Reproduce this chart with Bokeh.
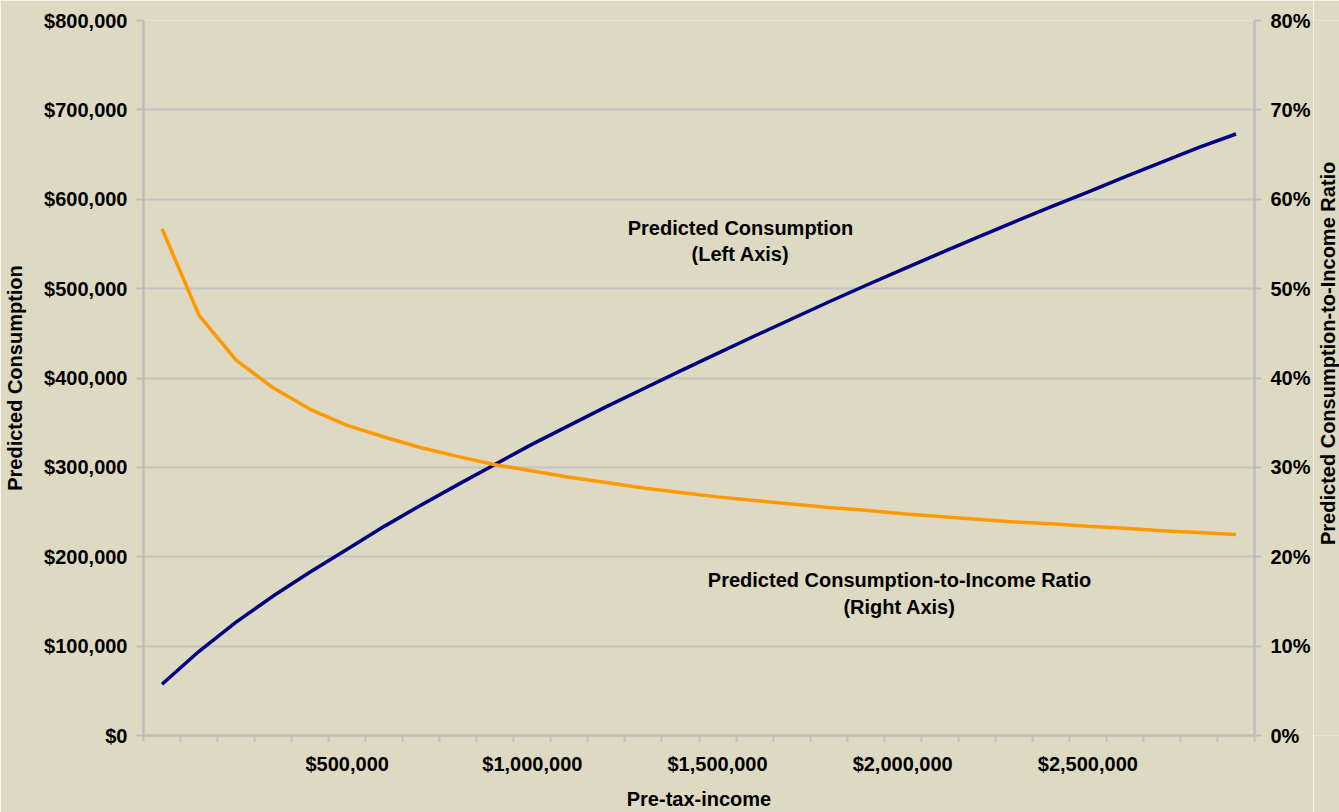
import math
from bokeh.plotting import figure
from bokeh.layouts import row
from bokeh.models import (Range1d, LinearAxis, FixedTicker, NumeralTickFormatter,
                          PrintfTickFormatter, Label)
from bokeh.embed import file_html
from bokeh.resources import INLINE

# ---- data ----
income = [0, 100000, 200000, 300000, 400000, 500000, 600000, 700000, 800000, 900000,
          1000000, 1100000, 1200000, 1300000, 1400000, 1500000, 1600000, 1700000, 1800000, 1900000,
          2000000, 2100000, 2200000, 2300000, 2400000, 2500000, 2600000, 2700000, 2800000, 2900000]
consumption = [57300, 94200, 126900, 156000, 183000, 208500, 234000, 258000, 281000, 303500,
               326000, 347000, 368000, 388000, 408000, 427500, 447000, 466000, 485000, 503500,
               521500, 539500, 557000, 574500, 591500, 608000, 625000, 641500, 658000, 673000]
ratio_pct = [56.7, 47.0, 42.0, 38.9, 36.5, 34.7, 33.4, 32.2, 31.2, 30.3,
             29.6, 28.9, 28.3, 27.7, 27.2, 26.7, 26.3, 25.9, 25.5, 25.2,
             24.8, 24.5, 24.2, 23.9, 23.7, 23.4, 23.2, 22.9, 22.7, 22.5]
x_tick_values = [500000, 1000000, 1500000, 2000000, 2500000]
left_ticks = [0, 100000, 200000, 300000, 400000, 500000, 600000, 700000, 800000]
right_ticks = [0, 10, 20, 30, 40, 50, 60, 70, 80]

BG = "#DDD9C3"
GRID = "#C4C4C4"
AXIS = "#BDBDBD"
FONT = "Liberation Sans"
FS = "20px"

p = figure(width=1313, height=812, output_backend="svg", toolbar_location=None, title=None,
           x_range=Range1d(-50000, 2950000), y_range=Range1d(0, 800000),
           min_border_left=143, min_border_right=59, min_border_top=20, min_border_bottom=76,
           background_fill_color=BG, border_fill_color=BG, outline_line_color=None)

p.extra_y_ranges = {"pct": Range1d(0, 80)}

# grid
p.xgrid.visible = False
yt = FixedTicker(ticks=left_ticks)
p.ygrid.ticker = yt
p.ygrid.grid_line_color = GRID
p.ygrid.grid_line_width = 2

# x axis
xa = p.xaxis[0]
xa.ticker = FixedTicker(ticks=x_tick_values,
                        minor_ticks=[-50000 + 100000 * k for k in range(31)])
xa.formatter = NumeralTickFormatter(format="$0,0")
xa.major_tick_out = 0
xa.major_tick_in = 0
xa.minor_tick_out = 6
xa.minor_tick_in = 0
xa.minor_tick_line_color = AXIS
xa.minor_tick_line_width = 2
xa.axis_line_color = AXIS
xa.axis_line_width = 2.5
xa.major_label_standoff = 11
xa.axis_label = "Pre-tax-income"
xa.axis_label_standoff = 10

# left axis
ya = p.yaxis[0]
ya.ticker = yt
ya.formatter = NumeralTickFormatter(format="$0,0")
ya.major_tick_out = 7
ya.major_tick_in = 0
ya.minor_tick_line_color = None
ya.major_tick_line_color = AXIS
ya.major_tick_line_width = 2
ya.axis_line_color = AXIS
ya.axis_line_width = 2.5
ya.major_label_standoff = 9
ya.axis_label = "Predicted Consumption"
ya.axis_label_standoff = 15

# right axis
ra = LinearAxis(y_range_name="pct", ticker=FixedTicker(ticks=right_ticks),
                formatter=PrintfTickFormatter(format="%d%%"))
ra.major_tick_out = 7
ra.major_tick_in = 0
ra.minor_tick_line_color = None
ra.major_tick_line_color = AXIS
ra.major_tick_line_width = 2
ra.axis_line_color = AXIS
ra.axis_line_width = 2.5
ra.major_label_standoff = 9
p.add_layout(ra, "right")

for ax in (xa, ya, ra):
    ax.major_label_text_font = FONT
    ax.major_label_text_font_style = "bold"
    ax.major_label_text_font_size = FS
    ax.major_label_text_color = "black"
    ax.axis_label_text_font = FONT
    ax.axis_label_text_font_style = "bold"
    ax.axis_label_text_font_size = FS
    ax.axis_label_text_color = "black"

# lines
p.line(income, consumption, line_color="#000080", line_width=3.5, line_join="round")
p.line(income, ratio_pct, y_range_name="pct", line_color="#FF9900", line_width=3.5,
       line_join="round")

def lab(fig, x, y, text, angle=0):
    fig.add_layout(Label(x=x, y=y, text=text, angle=angle, angle_units="deg",
                         text_align="center", text_baseline="middle", text_font=FONT,
                         text_font_style="bold", text_font_size=FS, text_color="black"))

lab(p, 1562000, 567600, "Predicted Consumption")
lab(p, 1562000, 538500, "(Left Axis)")
lab(p, 1991400, 173500, "Predicted Consumption-to-Income Ratio")
lab(p, 1991400, 143700, "(Right Axis)")

# narrow strip on the right carrying the right-axis title (reads bottom to top)
p2 = figure(width=26, height=812, output_backend="svg", toolbar_location=None, title=None,
            x_range=Range1d(0, 26), y_range=Range1d(0, 812),
            x_axis_location=None, y_axis_location=None,
            min_border=0, min_border_left=0, min_border_right=0,
            min_border_top=0, min_border_bottom=0,
            background_fill_color=BG, border_fill_color=BG, outline_line_color=None)
p2.xgrid.visible = False
p2.ygrid.visible = False
lab(p2, 14, 434, "Predicted Consumption-to-Income Ratio", angle=90)

layout = row(p, p2, spacing=0)
open("out.html", "w").write(file_html(layout, INLINE))
